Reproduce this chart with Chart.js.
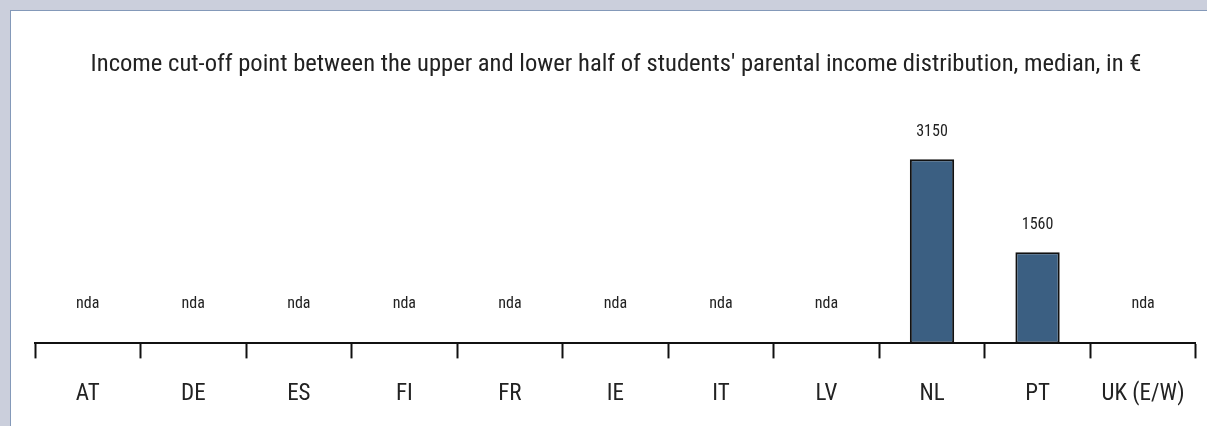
<!DOCTYPE html>
<html>
<head>
<meta charset="utf-8">
<script src="https://cdn.jsdelivr.net/npm/chart.js@4.4.1/dist/chart.umd.min.js"></script>
<style>
    html, body { margin: 0; padding: 0; }
    body { background: #cbcfdc; width: 1207px; height: 426px; overflow: hidden; position: relative; }
    .panel {
        position: absolute; left: 10px; top: 10px; width: 1210px; height: 430px;
        background: #fff; border: 1px solid #8499b9; box-sizing: border-box;
    }
    #chart { position: absolute; left: 0; top: 0; }
</style>
</head>
<body>
<div class="panel"></div>
<canvas id="chart" width="1207" height="426"></canvas>
<script>
// Data

const countries = ['AT', 'DE', 'ES', 'FI', 'FR', 'IE', 'IT', 'LV', 'NL', 'PT', 'UK (E/W)'];
const cutOff = [null, null, null, null, null, null, null, null, 3150, 1560, null];
const noDataLabel = 'nda';
const chartTitle = "Income cut-off point between the upper and lower half of students' parental income distribution, median, in \u20ac";

const FONT = '"Liberation Sans Narrow", "Roboto Condensed", "DejaVu Sans Condensed", "Liberation Sans", sans-serif';

// Value labels above bars ("nda" where there is no data)

const valueLabels = {
    id: 'valueLabels',
    afterDatasetsDraw(chart) {
        const ctx = chart.ctx;
        const x = chart.scales.x;
        const y = chart.scales.y;
        ctx.save();
        ctx.font = '16px ' + FONT;
        ctx.fillStyle = '#222';
        ctx.textAlign = 'center';
        ctx.textBaseline = 'middle';
        cutOff.forEach((v, i) => {
            const px = x.getPixelForValue(i);
            if (v == null) {
                ctx.fillText(noDataLabel, px, y.getPixelForValue(0) - 39);
            } else {
                ctx.fillText(String(v), px, y.getPixelForValue(v) - 27);
            }
        });
        ctx.restore();
    }
};

// Chart

const ctx = document.getElementById('chart').getContext('2d');

new Chart(ctx, {
    type: 'bar',
    data: {
        labels: countries,
        datasets: [
            {
                data: cutOff,
                backgroundColor: '#3b5f82',
                borderColor: '#111',
                borderWidth: 2,
                borderSkipped: false,
                categoryPercentage: 1,
                barPercentage: 0.42
            }
        ]
    },
    options: {
        responsive: false,
        animation: false,
        layout: {
            padding: { left: 35, right: 10, top: 50, bottom: -4 }
        },
        plugins: {
            legend: { display: false },
            tooltip: { enabled: false },
            title: {
                display: true,
                text: chartTitle,
                color: '#222',
                font: { family: FONT, size: 24.6, weight: 'normal' },
                padding: { top: 0, bottom: 30 }
            }
        },
        scales: {
            x: {
                grid: {
                    offset: true,
                    drawOnChartArea: false,
                    drawTicks: true,
                    tickLength: 15,
                    tickWidth: 2,
                    color: '#111'
                },
                border: { display: true, color: '#111', width: 2 },
                ticks: {
                    color: '#222',
                    padding: 22,
                    maxRotation: 0,
                    autoSkip: false,
                    font: { family: FONT, size: 23 }
                }
            },
            y: {
                display: false,
                min: 0,
                max: 4000
            }
        }
    },
    plugins: [valueLabels]
});
</script>
</body>
</html>
